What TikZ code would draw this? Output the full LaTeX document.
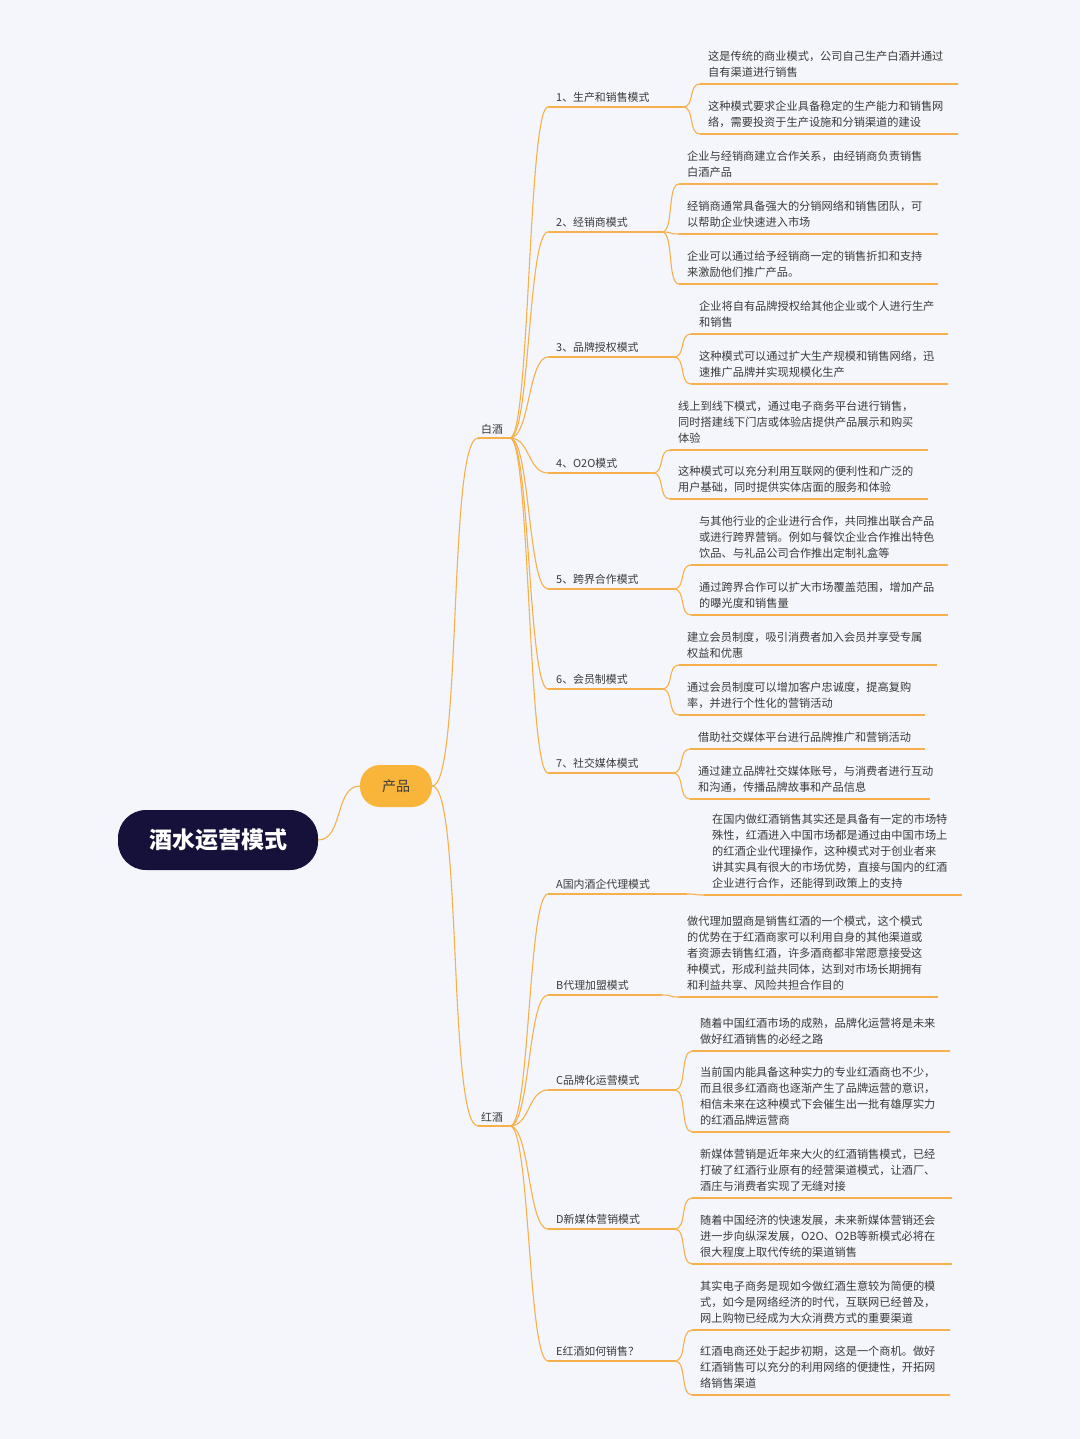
\documentclass[tikz,border=0pt]{standalone}
\usepackage{fontspec}
\usetikzlibrary{calc}
\setmainfont{Noto Sans CJK SC}
\definecolor{bg}{HTML}{F4F6FB}
\definecolor{ln}{HTML}{F6B04C}
\definecolor{tx}{HTML}{3A3A3A}
\definecolor{rootc}{HTML}{15113A}
\definecolor{prod}{HTML}{F9B43A}
\tikzset{
  conn/.style={draw=ln,line width=1.1pt},
  lt/.style={anchor=north west,inner sep=0pt,align=left,text=tx,font=\fontsize{11.2}{16}\selectfont},
  bt/.style={anchor=west,inner sep=0pt,text=tx,font=\fontsize{10.9}{14}\selectfont}
}
\newcommand\lf[6]{%
  \node[lt] (#1) at (#2,#3-5) {#6};
  \coordinate (#1-s) at ({#2-8},#4);
  \draw[conn] (#1-s) -- (#5,#4);}
\newcommand\br[4]{%
  \node[bt] (#1) at (556,#2+1) {#4};
  \coordinate (#1-s) at (548,#2+11);
  \coordinate (#1-e) at (#3,#2+11);
  \draw[conn] (#1-s) -- (#1-e);}
\newcommand\cn[3][12]{\draw[conn] (#2) .. controls ($(#2)+(#1,0)$) and ($(#3)-(#1,0)$) .. (#3);}
\begin{document}
\begin{tikzpicture}[x=1pt,y=-1pt]
\fill[bg] (0,0) rectangle (1080,1439);
\useasboundingbox (0,0) rectangle (1080,1439);
\node[fill=rootc,rounded corners=28pt,minimum width=200pt,minimum height=60pt,text=white,font=\fontsize{23}{26}\selectfont\bfseries] (root) at (218,840) {酒水运营模式};
\node[fill=prod,rounded corners=20pt,minimum width=72pt,minimum height=42pt,text=tx,font=\fontsize{14}{16}\selectfont] (prod) at (396,786) {产品};
\cn[25]{root.east}{prod.west}
\node[bt] (bj) at (481,429) {白酒};
\coordinate (bj-s) at (478,438); \coordinate (bj-e) at (510,438);
\draw[conn] (bj-s) -- (bj-e);
\node[bt] (hj) at (481,1117) {红酒};
\coordinate (hj-s) at (478,1126); \coordinate (hj-e) at (510,1126);
\draw[conn] (hj-s) -- (hj-e);
\cn[30]{prod.east}{bj-s}
\cn[30]{prod.east}{hj-s}
\br{b1}{96}{683}{1、生产和销售模式}
\br{b2}{221}{662}{2、经销商模式}
\br{b3}{346}{674}{3、品牌授权模式}
\br{b4}{462}{653}{4、O2O模式}
\br{b5}{578}{674}{5、跨界合作模式}
\br{b6}{678}{662}{6、会员制模式}
\br{b7}{762}{673}{7、社交媒体模式}
\br{bA}{883}{687}{A国内酒企代理模式}
\br{bB}{984}{662}{B代理加盟模式}
\br{bC}{1079}{675}{C品牌化运营模式}
\br{bD}{1218}{675}{D新媒体营销模式}
\br{bE}{1350}{675}{E红酒如何销售？}
\foreach \b in {b1,b2,b3,b4,b5,b6,b7}{\cn[20]{bj-e}{\b-s}}
\foreach \b in {bA,bB,bC,bD,bE}{\cn[20]{hj-e}{\b-s}}
\lf{l1a}{708}{56}{84}{958}{这是传统的商业模式，公司自己生产白酒并通过\\自有渠道进行销售}
\lf{l1b}{708}{106}{134}{958}{这种模式要求企业具备稳定的生产能力和销售网\\络，需要投资于生产设施和分销渠道的建设}
\lf{l2a}{687}{156}{184}{938}{企业与经销商建立合作关系，由经销商负责销售\\白酒产品}
\lf{l2b}{687}{206}{234}{938}{经销商通常具备强大的分销网络和销售团队，可\\以帮助企业快速进入市场}
\lf{l2c}{687}{256}{284}{938}{企业可以通过给予经销商一定的销售折扣和支持\\来激励他们推广产品。}
\lf{l3a}{699}{306}{334}{948}{企业将自有品牌授权给其他企业或个人进行生产\\和销售}
\lf{l3b}{699}{356}{384}{948}{这种模式可以通过扩大生产规模和销售网络，迅\\速推广品牌并实现规模化生产}
\lf{l4a}{678}{406}{450}{928}{线上到线下模式，通过电子商务平台进行销售，\\同时搭建线下门店或体验店提供产品展示和购买\\体验}
\lf{l4b}{678}{471}{499}{928}{这种模式可以充分利用互联网的便利性和广泛的\\用户基础，同时提供实体店面的服务和体验}
\lf{l5a}{699}{521}{565}{948}{与其他行业的企业进行合作，共同推出联合产品\\或进行跨界营销。例如与餐饮企业合作推出特色\\饮品、与礼品公司合作推出定制礼盒等}
\lf{l5b}{699}{587}{615}{948}{通过跨界合作可以扩大市场覆盖范围，增加产品\\的曝光度和销售量}
\lf{l6a}{687}{637}{665}{937}{建立会员制度，吸引消费者加入会员并享受专属\\权益和优惠}
\lf{l6b}{687}{687}{715}{925}{通过会员制度可以增加客户忠诚度，提高复购\\率，并进行个性化的营销活动}
\lf{l7a}{698}{737}{749}{925}{借助社交媒体平台进行品牌推广和营销活动}
\lf{l7b}{698}{771}{799}{930}{通过建立品牌社交媒体账号，与消费者进行互动\\和沟通，传播品牌故事和产品信息}
\lf{lA}{712}{819}{895}{962}{在国内做红酒销售其实还是具备有一定的市场特\\殊性，红酒进入中国市场都是通过由中国市场上\\的红酒企业代理操作，这种模式对于创业者来\\讲其实具有很大的市场优势，直接与国内的红酒\\企业进行合作，还能得到政策上的支持}
\lf{lB}{687}{921}{997}{938}{做代理加盟商是销售红酒的一个模式，这个模式\\的优势在于红酒商家可以利用自身的其他渠道或\\者资源去销售红酒，许多酒商都非常愿意接受这\\种模式，形成利益共同体，达到对市场长期拥有\\和利益共享、风险共担合作目的}
\lf{lCa}{700}{1023}{1051}{950}{随着中国红酒市场的成熟，品牌化运营将是未来\\做好红酒销售的必经之路}
\lf{lCb}{700}{1072}{1132}{950}{当前国内能具备这种实力的专业红酒商也不少，\\而且很多红酒商也逐渐产生了品牌运营的意识，\\相信未来在这种模式下会催生出一批有雄厚实力\\的红酒品牌运营商}
\lf{lDa}{700}{1154}{1198}{952}{新媒体营销是近年来大火的红酒销售模式，已经\\打破了红酒行业原有的经营渠道模式，让酒厂、\\酒庄与消费者实现了无缝对接}
\lf{lDb}{700}{1220}{1264}{952}{随着中国经济的快速发展，未来新媒体营销还会\\进一步向纵深发展，O2O、O2B等新模式必将在\\很大程度上取代传统的渠道销售}
\lf{lEa}{700}{1286}{1330}{950}{其实电子商务是现如今做红酒生意较为简便的模\\式，如今是网络经济的时代，互联网已经普及，\\网上购物已经成为大众消费方式的重要渠道}
\lf{lEb}{700}{1351}{1395}{950}{红酒电商还处于起步初期，这是一个商机。做好\\红酒销售可以充分的利用网络的便捷性，开拓网\\络销售渠道}
\cn{b1-e}{l1a-s}\cn{b1-e}{l1b-s}
\cn{b2-e}{l2a-s}\cn{b2-e}{l2b-s}\cn{b2-e}{l2c-s}
\cn{b3-e}{l3a-s}\cn{b3-e}{l3b-s}
\cn{b4-e}{l4a-s}\cn{b4-e}{l4b-s}
\cn{b5-e}{l5a-s}\cn{b5-e}{l5b-s}
\cn{b6-e}{l6a-s}\cn{b6-e}{l6b-s}
\cn{b7-e}{l7a-s}\cn{b7-e}{l7b-s}
\cn{bA-e}{lA-s}
\cn{bB-e}{lB-s}
\cn{bC-e}{lCa-s}\cn{bC-e}{lCb-s}
\cn{bD-e}{lDa-s}\cn{bD-e}{lDb-s}
\cn{bE-e}{lEa-s}\cn{bE-e}{lEb-s}
\end{tikzpicture}
\end{document}
